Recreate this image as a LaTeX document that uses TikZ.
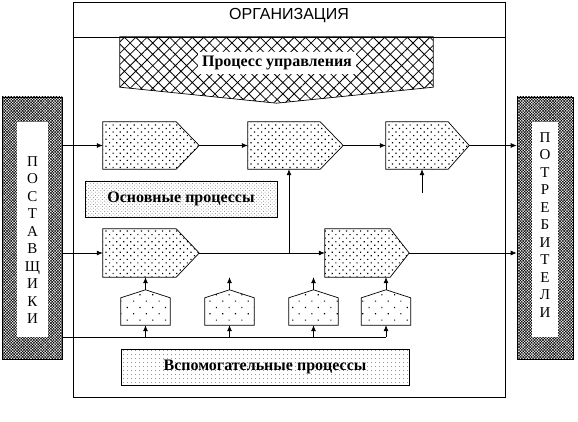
\documentclass[tikz,border=0pt]{standalone}
\usepackage{fontspec}
\setmainfont{Liberation Serif}
\newfontfamily\titlefont{Liberation Sans}
\usetikzlibrary{patterns.meta,arrows.meta}

\tikzset{
  box/.style={rectangle,inner sep=0pt},
  procfill/.style={draw,line width=0.7pt,pattern={Dots[distance=5pt,angle=45,radius=0.85pt]}},
  auxfill/.style={draw,line width=0.7pt,pattern={Dots[distance=9pt,angle=45,radius=0.8pt]}},
  band/.style={rectangle,draw,line width=0.7pt,inner sep=0pt,font=\bfseries\fontsize{16}{18}\selectfont},
  side/.style={rectangle,draw,line width=0.7pt,inner sep=0pt,
    pattern={Hatch[angle=45,distance=2pt,line width=0.5pt]}},
  sidein/.style={rectangle,fill=white,inner sep=0pt},
  sidetext/.style={align=center,inner sep=0pt,font=\fontsize{15}{17.5}\selectfont},
  arr/.style={-{Latex[length=6pt,width=5pt]},line width=0.7pt}
}
% pentagon pointing right / up around a named box
\newcommand\procpath[2]{\draw[procfill] (#1.north west) -- ([xshift=-#2]#1.north east) -- (#1.east)
  -- ([xshift=-#2]#1.south east) -- (#1.south west) -- cycle;}
\newcommand\auxpath[2]{\draw[auxfill] (#1.south west) -- (#1.south east) -- ([yshift=-#2]#1.north east)
  -- (#1.north) -- ([yshift=-#2]#1.north west) -- cycle;}

\begin{document}
\begin{tikzpicture}[x=1pt,y=-1pt]
\useasboundingbox (0,0) rectangle (578,422);
% organisation frame
\node [rectangle,draw,line width=0.7pt,minimum width=432pt,minimum height=395pt] (org) at (289,199.5) {};
\draw [line width=0.7pt] (org.west |- 0,37) -- (org.east |- 0,37);
\node [font=\titlefont\fontsize{16}{18}\selectfont] (title) at (289,16) {ОРГАНИЗАЦИЯ};

% management
\node [box,minimum width=313pt,minimum height=66pt] (mgmt) at (276.5,70) {};
\draw [line width=0.7pt,pattern={Hatch[angle=45,distance=8pt,line width=0.8pt]}]
  (mgmt.north west) -- (mgmt.north east) -- ([yshift=16pt]mgmt.south east) -- (mgmt.south)
  -- ([yshift=16pt]mgmt.south west) -- cycle;
\node [fill=white,font=\bfseries\fontsize{16}{18}\selectfont,inner sep=4pt] (mgmttext) at (277,63) {Процесс управления};

% suppliers and consumers
\node [side,minimum width=60pt,minimum height=262pt] (sup) at (32,228) {};
\node [sidein,minimum width=31pt,minimum height=215pt] (supin) at (32.5,229.5) {};
\node [sidetext] (suptext) at (32.5,240) {П\\О\\С\\Т\\А\\В\\Щ\\И\\К\\И};
\node [side,minimum width=56pt,minimum height=262pt] (cons) at (545,228) {};
\node [sidein,minimum width=26pt,minimum height=215pt] (consin) at (545,229.5) {};
\node [sidetext] (constext) at (545,225) {П\\О\\Т\\Р\\Е\\Б\\И\\Т\\Е\\Л\\И};

% main processes
\node [box,minimum width=96pt,minimum height=47pt] (p1) at (151,145.5) {};
\node [box,minimum width=95pt,minimum height=47pt] (p2) at (295.5,145.5) {};
\node [box,minimum width=83pt,minimum height=47pt] (p3) at (427.5,145.5) {};
\node [box,minimum width=96pt,minimum height=48pt] (p4) at (151,253) {};
\node [box,minimum width=84pt,minimum height=48pt] (p5) at (367,253) {};
\procpath{p1}{23pt}
\procpath{p2}{23pt}
\procpath{p3}{21pt}
\procpath{p4}{23pt}
\procpath{p5}{19pt}
\node [band,minimum width=192pt,minimum height=36pt,
  pattern={Dots[distance=2.5pt,angle=45,radius=0.35pt]}] (main) at (181,199) {Основные процессы};

% support processes
\node [box,minimum width=49pt,minimum height=35pt] (s1) at (145.5,307.5) {};
\node [box,minimum width=49pt,minimum height=35pt] (s2) at (229.5,307.5) {};
\node [box,minimum width=49pt,minimum height=35pt] (s3) at (313.5,307.5) {};
\node [box,minimum width=49pt,minimum height=35pt] (s4) at (386,307.5) {};
\foreach \s in {s1,s2,s3,s4}
  \auxpath{\s}{8pt};
\node [band,minimum width=288pt,minimum height=36pt,
  pattern={Dots[distance=4pt,radius=0.4pt]}] (support) at (265,367) {Вспомогательные процессы};

% flows
\coordinate (branch) at (289,253);
\coordinate (feed) at (422,193);
\coordinate (bus) at (62,337);
\draw [arr] (sup.east |- p1.west) -- (p1.west);
\draw [arr] (p1.east) -- (p2.west);
\draw [arr] (p2.east) -- (p3.west);
\draw [arr] (p3.east) -- (cons.west |- p3.east);
\draw [arr] (feed) -- (feed |- p3.south);
\draw [arr] (sup.east |- p4.west) -- (p4.west);
\draw [arr] (p4.east) -- (p5.west);
\draw [arr] (branch) -- (branch |- p2.south);
\draw [arr] (p5.east) -- (cons.west |- p5.east);
\draw [line width=0.7pt] (bus) -- (bus -| s4);
\foreach \s in {s1,s2,s3,s4}
  \draw [arr] (bus -| \s) -- (\s.south);
\foreach \s in {s1,s2,s3}
  \draw [arr] (\s.north) -- (\s.north |- p4.south);
\draw [arr] (s4.north) -- (s4.north |- p5.south);
\end{tikzpicture}
\end{document}
